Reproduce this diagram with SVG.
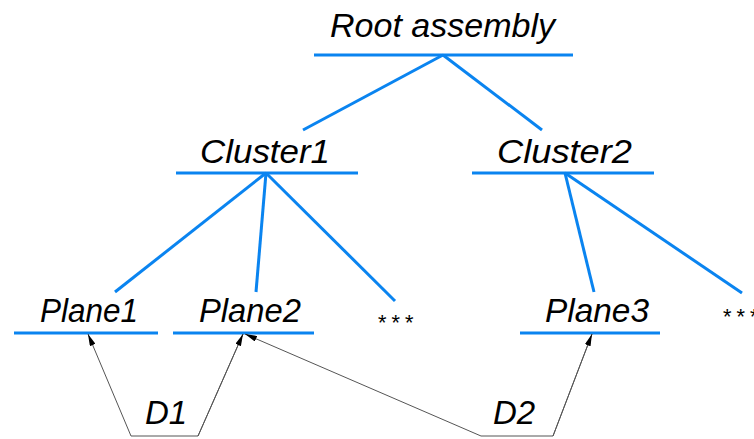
<svg xmlns="http://www.w3.org/2000/svg" width="754" height="439" viewBox="0 0 754 439">
<style>
.t{font-family:"Liberation Sans",Arial,sans-serif;font-style:italic;font-size:33px;fill:#000}
.b{stroke:#0a84f0;stroke-width:3;fill:none}
.a{stroke:#555;stroke-width:1;fill:none}
.s{font-family:"Liberation Sans",Arial,sans-serif;font-style:italic;font-size:22px;fill:#000}
</style>
<defs>
<marker id="ah" viewBox="0 0 12 6" refX="12" refY="3" markerWidth="12" markerHeight="6" orient="auto" markerUnits="userSpaceOnUse">
<path d="M0,0 L12,3 L0,6 z" fill="#000"/>
</marker>
</defs>
<rect width="754" height="439" fill="#fff"/>
<g id="root"><text class="t" x="330" y="37" textLength="225" lengthAdjust="spacingAndGlyphs">Root assembly</text><line class="b" x1="314" y1="55" x2="573" y2="55"/></g>
<g id="cluster1"><text class="t" x="200" y="163" textLength="130" lengthAdjust="spacingAndGlyphs">Cluster1</text><line class="b" x1="176" y1="173" x2="358" y2="173"/></g>
<g id="cluster2"><text class="t" x="497" y="163" textLength="135" lengthAdjust="spacingAndGlyphs">Cluster2</text><line class="b" x1="472" y1="173" x2="654" y2="173"/></g>
<g id="plane1"><text class="t" x="40" y="322" textLength="98" lengthAdjust="spacingAndGlyphs">Plane1</text><line class="b" x1="14" y1="333" x2="158" y2="333"/></g>
<g id="plane2"><text class="t" x="199" y="322" textLength="102" lengthAdjust="spacingAndGlyphs">Plane2</text><line class="b" x1="173" y1="333" x2="314" y2="333"/></g>
<g id="plane3"><text class="t" x="545" y="322" textLength="104" lengthAdjust="spacingAndGlyphs">Plane3</text><line class="b" x1="520" y1="333" x2="660" y2="333"/></g>
<g id="more1"><text class="s" x="377" y="330" letter-spacing="5">***</text></g>
<g id="more2"><text class="s" x="722" y="324" letter-spacing="5">***</text></g>
<g id="d1"><text class="t" x="145" y="424">D1</text></g>
<g id="d2"><text class="t" x="493" y="424">D2</text></g>
<g id="connectors">
<line class="b" x1="443" y1="55" x2="303" y2="130"/>
<line class="b" x1="443" y1="55" x2="542" y2="130"/>
<line class="b" x1="266" y1="173" x2="115" y2="292"/>
<line class="b" x1="266" y1="173" x2="256" y2="292"/>
<line class="b" x1="266" y1="173" x2="395" y2="301"/>
<line class="b" x1="565" y1="173" x2="594" y2="292"/>
<line class="b" x1="565" y1="173" x2="742" y2="293"/>
<polyline class="a" points="243,334 198,436 131,436 88,334" marker-end="url(#ah)"/>
<line class="a" x1="198" y1="436" x2="243" y2="334" marker-end="url(#ah)"/>
<polyline class="a" points="592,334 553,436 481,436 245,334" marker-end="url(#ah)"/>
<line class="a" x1="553" y1="436" x2="592" y2="334" marker-end="url(#ah)"/>
</g>
</svg>
